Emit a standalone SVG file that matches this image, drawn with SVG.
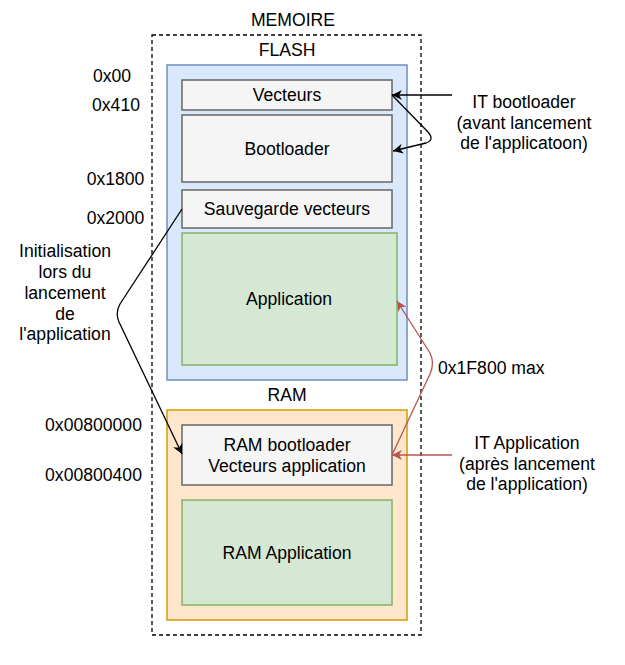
<svg xmlns="http://www.w3.org/2000/svg" width="625" height="665" viewBox="0 0 625 665">
<defs>
<marker id="ab" markerWidth="11" markerHeight="10" refX="10" refY="5" orient="auto" markerUnits="userSpaceOnUse"><path d="M0,0 L10,5 L0,10 L3,5 Z" fill="#000"/></marker>
<marker id="ar" markerWidth="11" markerHeight="10" refX="10" refY="5" orient="auto" markerUnits="userSpaceOnUse"><path d="M0,0 L10,5 L0,10 L3,5 Z" fill="#b85450"/></marker>
<style>
text{font-family:"Liberation Sans",Arial,sans-serif;font-size:17.6px;fill:#000}
.c{text-anchor:middle}
.grey{fill:#f5f5f5;stroke:#666;stroke-width:1.5}
.green{fill:#d5e8d4;stroke:#82b366;stroke-width:1.5}
.e{fill:none;stroke:#000;stroke-width:1.3}
.er{fill:none;stroke:#b85450;stroke-width:1.3}
</style>
</defs>
<rect width="625" height="665" fill="#fff"/>
<g id="memoire">
<rect x="152" y="35" width="269" height="600" fill="none" stroke="#000" stroke-width="1.3" stroke-dasharray="4 3"/>
<text class="c" x="293" y="26">MEMOIRE</text>
</g>
<g id="flash">
<text class="c" x="287" y="56">FLASH</text>
<rect x="167" y="65" width="240" height="315" fill="#dae8fc" stroke="#6c8ebf" stroke-width="1.5"/>
</g>
<g id="vecteurs"><rect class="grey" x="182" y="80" width="210" height="30"/><text class="c" x="287" y="101">Vecteurs</text></g>
<g id="bootloader"><rect class="grey" x="182" y="115" width="210" height="67"/><text class="c" x="287" y="155">Bootloader</text></g>
<g id="sauvegarde"><rect class="grey" x="182" y="190" width="210" height="38"/><text class="c" x="287" y="215">Sauvegarde vecteurs</text></g>
<g id="application"><rect class="green" x="182" y="233" width="215" height="132"/><text class="c" x="289" y="305">Application</text></g>
<g id="ram">
<text class="c" x="287" y="401">RAM</text>
<rect x="167" y="410" width="240" height="210" fill="#ffe6cc" stroke="#d79b00" stroke-width="1.5"/>
</g>
<g id="rambootloader"><rect class="grey" x="182" y="425" width="210" height="60"/><text class="c" x="287" y="451">RAM bootloader</text><text class="c" x="287" y="472">Vecteurs application</text></g>
<g id="ramapplication"><rect class="green" x="182" y="500" width="210" height="105"/><text class="c" x="287" y="559">RAM Application</text></g>
<g id="addresses">
<text class="c" x="112" y="82">0x00</text>
<text class="c" x="116" y="111">0x410</text>
<text class="c" x="115.5" y="185">0x1800</text>
<text class="c" x="115.5" y="224">0x2000</text>
<text class="c" x="93.5" y="431">0x00800000</text>
<text class="c" x="93.5" y="481">0x00800400</text>
</g>
<g id="connectors">
<path class="e" d="M452,95 L392,95" marker-end="url(#ab)"/>
<path class="e" d="M392,95 L428,132 Q435,140 426,143 L393,151" marker-end="url(#ab)"/>
<path class="e" d="M182,209 L120,304 Q115,313 119,322 L182,454" marker-end="url(#ab)"/>
<path class="er" d="M392,455 L430,374 Q435,363 430,353 L397,301" marker-end="url(#ar)"/>
<path class="er" d="M452,455 L392,455" marker-end="url(#ar)"/>
</g>
<g id="labels">
<text class="c" x="65" y="257">Initialisation</text>
<text class="c" x="65" y="278">lors du</text>
<text class="c" x="65" y="299">lancement</text>
<text class="c" x="65" y="320">de</text>
<text class="c" x="65" y="340">l'application</text>
<text class="c" x="524" y="108">IT bootloader</text>
<text class="c" x="524" y="129">(avant lancement</text>
<text class="c" x="524" y="149">de l'applicatoon)</text>
<text x="438" y="374">0x1F800 max</text>
<text class="c" x="527" y="449">IT Application</text>
<text class="c" x="527" y="470">(après lancement</text>
<text class="c" x="527" y="490">de l'application)</text>
</g>
</svg>
